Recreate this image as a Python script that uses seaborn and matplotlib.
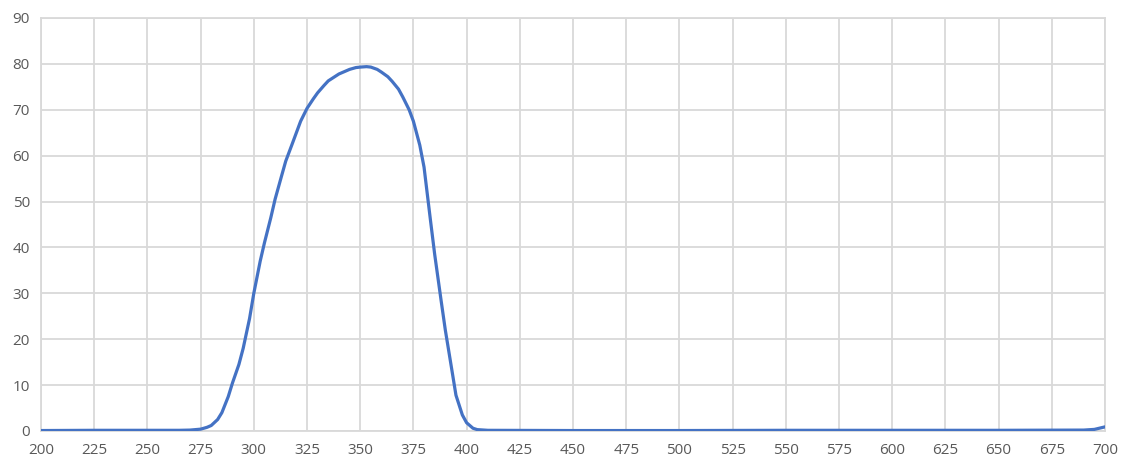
import matplotlib
matplotlib.use("Agg")
import matplotlib.pyplot as plt
import seaborn as sns
import pandas as pd

wavelength = [200, 225, 250, 265, 270, 275, 278, 280, 283, 285, 288, 290, 293, 295, 298,
              300, 303, 305, 308, 310, 313, 315, 318, 320, 322, 325, 328, 330, 333, 335,
              338, 340, 343, 345, 348, 350, 353, 355, 358, 360, 363, 365, 368, 370, 373,
              375, 378, 380, 383, 385, 388, 390, 393, 395, 398, 400, 403, 405, 410, 450,
              500, 550, 600, 650, 690, 695, 700]
transmission = [0.1, 0.15, 0.15, 0.15, 0.2, 0.4, 0.8, 1.2, 2.5, 4.0, 7.5, 10.5, 14.5, 18.0, 24.5,
                30.0, 37.0, 41.0, 46.5, 50.5, 55.5, 58.8, 62.5, 65.0, 67.5, 70.3, 72.4, 73.7, 75.3, 76.3,
                77.2, 77.8, 78.4, 78.8, 79.2, 79.3, 79.4, 79.3, 78.8, 78.2, 77.2, 76.2, 74.5, 72.8, 70.0,
                67.5, 62.3, 57.5, 46.0, 38.5, 28.5, 22.0, 13.5, 7.8, 3.5, 1.8, 0.6, 0.3, 0.15, 0.1,
                0.1, 0.15, 0.15, 0.15, 0.2, 0.35, 0.9]
x_ticks = list(range(200, 701, 25))
y_ticks = list(range(0, 91, 10))

df = pd.DataFrame({"wavelength": wavelength, "transmission": transmission})

sns.set_style("white")
plt.rcParams['font.family'] = ['Open Sans', 'DejaVu Sans']

fig = plt.figure(figsize=(11.22, 4.69), dpi=100)
ax = fig.add_axes([41/1122, 1 - 431/469, (1105 - 41)/1122, (431 - 18)/469])

grid_c = "#D9D9D9"
sns.lineplot(data=df, x="wavelength", y="transmission", ax=ax,
             color="#4472C4", linewidth=2.3, zorder=3)

ax.set_xlim(200, 700)
ax.set_ylim(0, 90)
ax.set_xticks(x_ticks)
ax.set_yticks(y_ticks)
ax.set_xlabel("")
ax.set_ylabel("")
ax.grid(True, color=grid_c, linewidth=1.3)
ax.set_axisbelow(True)
for s in ax.spines.values():
    s.set_color(grid_c)
    s.set_linewidth(1.3)
ax.tick_params(axis="both", length=0, labelsize=11, labelcolor="#595959")
ax.tick_params(axis="y", pad=8)
ax.tick_params(axis="x", pad=9)

fig.savefig("out.png", dpi=100, facecolor="white")
